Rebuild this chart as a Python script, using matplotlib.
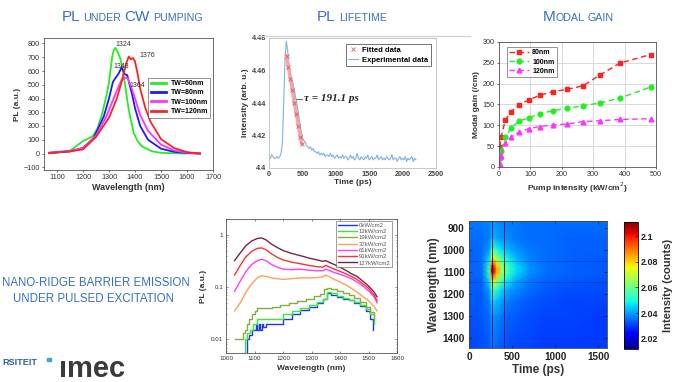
import matplotlib
matplotlib.use("Agg")
import matplotlib.pyplot as plt
import numpy as np

plt.rcParams["font.family"] = ["Liberation Sans", "DejaVu Sans"]

W, H = 677, 382
TITLE_BLUE = "#3670c6"

# ---------------- PL under CW pumping ----------------
pl_green_x = [1070, 1100, 1150, 1200, 1236, 1255, 1274, 1290, 1299, 1312, 1318, 1324, 1332, 1342, 1350, 1363, 1376, 1395, 1410, 1427, 1465, 1500, 1560, 1650]
pl_green_y = [0, 5, 20, 90, 124, 180, 292, 420, 508, 700, 750, 768, 745, 700, 640, 483, 316, 148, 90, 52, 16, 5, 1, 0]
pl_blue_x = [1070, 1150, 1200, 1240, 1280, 1300, 1315, 1325, 1335, 1342, 1348, 1355, 1362, 1370, 1378, 1390, 1400, 1420, 1450, 1500, 1550, 1600, 1650]
pl_blue_y = [5, 15, 40, 110, 270, 400, 520, 550, 575, 600, 627, 600, 575, 570, 510, 420, 330, 200, 100, 35, 12, 4, 0]
pl_mag_x = [1070, 1150, 1200, 1250, 1290, 1320, 1340, 1350, 1358, 1364, 1372, 1380, 1390, 1400, 1420, 1450, 1500, 1550, 1600, 1650]
pl_mag_y = [5, 20, 40, 130, 270, 410, 500, 540, 545, 551, 548, 510, 460, 400, 280, 165, 65, 22, 6, 0]
pl_red_x = [1070, 1150, 1200, 1250, 1300, 1330, 1350, 1365, 1376, 1384, 1392, 1400, 1410, 1420, 1440, 1460, 1500, 1550, 1600, 1650]
pl_red_y = [5, 15, 30, 120, 260, 400, 530, 650, 705, 685, 695, 670, 580, 470, 330, 230, 105, 40, 10, 0]
pl_labels = ["TW=60nm", "TW=80nm", "TW=100nm", "TW=120nm"]
pl_peaks = ["1324", "1348", "1364", "1376"]

# ---------------- PL lifetime ----------------
life_t = list(range(0, 2201, 20))
life_i = [4.405, 4.406, 4.408, 4.407, 4.406, 4.406, 4.407, 4.406, 4.407, 4.409,
          4.415, 4.440, 4.468, 4.478, 4.472, 4.463, 4.458, 4.455, 4.452, 4.448,
          4.443, 4.439, 4.434, 4.428, 4.423, 4.419, 4.417, 4.416, 4.414, 4.413,
          4.412, 4.413, 4.411, 4.412, 4.410, 4.410, 4.409, 4.410, 4.408, 4.409,
          4.408, 4.409, 4.407, 4.408, 4.408, 4.407, 4.409, 4.407, 4.408, 4.406,
          4.407, 4.408, 4.406, 4.407, 4.406, 4.408, 4.406, 4.407, 4.407, 4.405,
          4.406, 4.408, 4.406, 4.407, 4.405, 4.406, 4.409, 4.406, 4.405, 4.407,
          4.406, 4.405, 4.407, 4.406, 4.408, 4.405, 4.406, 4.407, 4.405, 4.406,
          4.406, 4.408, 4.405, 4.406, 4.407, 4.405, 4.406, 4.405, 4.407, 4.406,
          4.405, 4.406, 4.408, 4.405, 4.406, 4.406, 4.404, 4.406, 4.407, 4.405,
          4.406, 4.405, 4.407, 4.404, 4.406, 4.405, 4.406, 4.407, 4.404, 4.406,
          4.405]
fit_t = [262, 290, 320, 350, 380, 410, 440, 470, 490]
fit_i = [4.469, 4.462, 4.455, 4.448, 4.440, 4.433, 4.426, 4.419, 4.415]
tau_text = "τ = 191.1 ps"

# ---------------- Modal gain ----------------
gain_x = [2, 7, 20, 39, 63, 95, 129, 171, 215, 268, 322, 384, 483]
gain_80 = [48, 72, 113, 133, 149, 161, 172, 181, 186, 195, 221, 249, 270]
gain_100 = [21, 39, 71, 94, 110, 118, 128, 135, 141, 147, 154, 165, 192]
gain_120 = [8, 26, 58, 72, 84, 92, 97, 101, 103, 109, 111, 114, 116]
gain_labels = ["80nm", "100nm", "120nm"]

# ---------------- Nano-ridge barrier emission ----------------
nr_wl = [1030, 1050, 1070, 1090, 1110, 1125, 1140, 1160, 1180, 1200, 1230, 1260, 1290,
         1320, 1340, 1350, 1360, 1380, 1400, 1420, 1440, 1460, 1480, 1500, 1520, 1530]
nr_127 = [0.32, 0.45, 0.62, 0.76, 0.85, 0.87, 0.80, 0.66, 0.57, 0.50, 0.44, 0.40, 0.36,
          0.33, 0.31, 0.32, 0.30, 0.27, 0.24, 0.21, 0.18, 0.16, 0.13, 0.105, 0.08, 0.065]
nr_91 = [0.17, 0.26, 0.38, 0.48, 0.55, 0.56, 0.52, 0.43, 0.37, 0.33, 0.30, 0.28, 0.26,
         0.245, 0.24, 0.26, 0.245, 0.22, 0.20, 0.18, 0.16, 0.14, 0.115, 0.095, 0.07, 0.055]
nr_61 = [0.083, 0.13, 0.20, 0.27, 0.32, 0.34, 0.32, 0.27, 0.24, 0.22, 0.215, 0.22, 0.21,
         0.205, 0.205, 0.22, 0.21, 0.19, 0.175, 0.16, 0.145, 0.125, 0.105, 0.085, 0.065, 0.05]
nr_37 = [0.035, 0.05, 0.08, 0.115, 0.15, 0.165, 0.16, 0.15, 0.145, 0.14, 0.145, 0.15, 0.15,
         0.152, 0.158, 0.17, 0.16, 0.14, 0.125, 0.11, 0.095, 0.08, 0.066, 0.055, 0.042, 0.035]
nr19_x = [1030, 1055, 1060, 1065, 1075, 1080, 1090, 1100, 1110, 1130, 1160, 1190, 1220, 1250,
          1280, 1310, 1330, 1345, 1355, 1370, 1390, 1410, 1430, 1450, 1470, 1490, 1505, 1520]
nr_19 = [0.010, 0.010, 0.013, 0.015, 0.020, 0.025, 0.030, 0.035, 0.040, 0.040, 0.042, 0.045,
         0.050, 0.055, 0.060, 0.068, 0.075, 0.090, 0.095, 0.092, 0.085, 0.078, 0.070, 0.062,
         0.052, 0.042, 0.033, 0.025]
nr12_x = [1060, 1065, 1075, 1085, 1095, 1110, 1140, 1170, 1200, 1230, 1260, 1290, 1320, 1340,
          1355, 1370, 1390, 1410, 1430, 1450, 1470, 1490, 1505, 1520]
nr_12 = [0.005, 0.010, 0.013, 0.015, 0.020, 0.025, 0.025, 0.025, 0.030, 0.035, 0.040, 0.045,
         0.052, 0.060, 0.080, 0.076, 0.068, 0.062, 0.057, 0.052, 0.045, 0.038, 0.030, 0.020]
nr0_x = [1070, 1072, 1080, 1090, 1100, 1105, 1110, 1115, 1120, 1125, 1130, 1140, 1150, 1170,
         1200, 1230, 1260, 1290, 1320, 1340, 1355, 1370, 1390, 1410, 1430, 1450, 1470, 1490,
         1505, 1515]
nr_0 = [0.004, 0.010, 0.012, 0.015, 0.015, 0.020, 0.015, 0.020, 0.015, 0.020, 0.017, 0.020,
        0.020, 0.020, 0.025, 0.030, 0.036, 0.042, 0.050, 0.058, 0.078, 0.072, 0.064, 0.060,
        0.056, 0.050, 0.043, 0.035, 0.025, 0.015]
nr_labels = ["0kW/cm2", "12kW/cm2", "19kW/cm2", "37kW/cm2", "61kW/cm2", "91kW/cm2", "127kW/cm2"]

# ---------------- Streak map ----------------
hm_time = [0, 150, 240, 262, 275, 290, 320, 380, 450, 550, 700, 900, 1200, 1600]
hm_wl = [870, 950, 1000, 1040, 1070, 1090, 1110, 1140, 1180, 1230, 1300, 1445]
hm_counts = [
    [2.036, 2.036, 2.037, 2.038, 2.038, 2.038, 2.038, 2.037, 2.036, 2.036, 2.035, 2.035, 2.035, 2.035],
    [2.035, 2.035, 2.037, 2.042, 2.043, 2.042, 2.041, 2.039, 2.038, 2.036, 2.035, 2.035, 2.034, 2.034],
    [2.034, 2.035, 2.040, 2.054, 2.056, 2.054, 2.050, 2.046, 2.042, 2.039, 2.036, 2.035, 2.034, 2.034],
    [2.034, 2.035, 2.046, 2.074, 2.078, 2.074, 2.066, 2.056, 2.048, 2.042, 2.037, 2.035, 2.034, 2.033],
    [2.034, 2.035, 2.052, 2.094, 2.100, 2.094, 2.080, 2.064, 2.053, 2.045, 2.038, 2.035, 2.034, 2.033],
    [2.034, 2.035, 2.055, 2.104, 2.110, 2.104, 2.086, 2.068, 2.055, 2.046, 2.039, 2.035, 2.034, 2.033],
    [2.034, 2.035, 2.053, 2.096, 2.102, 2.096, 2.082, 2.065, 2.053, 2.045, 2.038, 2.035, 2.034, 2.033],
    [2.033, 2.034, 2.047, 2.076, 2.080, 2.076, 2.067, 2.056, 2.047, 2.041, 2.036, 2.034, 2.033, 2.032],
    [2.033, 2.034, 2.041, 2.056, 2.058, 2.056, 2.052, 2.046, 2.041, 2.038, 2.035, 2.033, 2.032, 2.032],
    [2.033, 2.033, 2.037, 2.045, 2.046, 2.045, 2.043, 2.040, 2.037, 2.035, 2.033, 2.032, 2.031, 2.031],
    [2.032, 2.033, 2.035, 2.039, 2.040, 2.039, 2.038, 2.036, 2.034, 2.033, 2.032, 2.031, 2.031, 2.030],
    [2.031, 2.032, 2.033, 2.035, 2.035, 2.035, 2.034, 2.033, 2.032, 2.031, 2.031, 2.030, 2.030, 2.030],
]
hm_vlines = [269, 404]
hm_hlines = [1050, 1145]
cbar_ticks = [2.02, 2.04, 2.06, 2.08, 2.1]

fig = plt.figure(figsize=(W / 100, H / 100), dpi=100)
fig.patch.set_facecolor("white")


def ax_px(l, t, r, b):
    return fig.add_axes([l / W, 1 - b / H, (r - l) / W, (b - t) / H])


def smallcaps(cx, base_y, pieces):
    """Draw pieces (text, size, gap_px) side by side, centred on cx."""
    arts = [fig.text(0, 1 - base_y / H, s, fontsize=sz, color=TITLE_BLUE,
                     ha="left", va="baseline") for s, sz, _ in pieces]
    r = fig.canvas.get_renderer()
    widths = [a.get_window_extent(r).width for a in arts]
    gaps = [g for _, _, g in pieces]
    total = sum(widths) + sum(gaps)
    x = cx - total / 2
    for a, w, g in zip(arts, widths, gaps):
        x += g
        a.set_x(x / W)
        x += w


# ---- titles ----
smallcaps(132, 21, [("PL", 11, 0), ("UNDER", 7.7, 3), ("CW", 11, 3), ("PUMPING", 7.7, 3)])
smallcaps(352, 21, [("PL", 11, 0), ("LIFETIME", 7.7, 3)])
smallcaps(578, 21, [("M", 11, 0), ("ODAL", 7.7, 0.5), ("GAIN", 7.7, 3)])

# ---- panel 1 ----
ax1 = ax_px(44, 38, 213, 170)
pl_cols = ["#22ee22", "#1a1aff", "#ff33ff", "#ff2222"]
for xs, ys, c, lab in zip([pl_green_x, pl_blue_x, pl_mag_x, pl_red_x],
                          [pl_green_y, pl_blue_y, pl_mag_y, pl_red_y], pl_cols, pl_labels):
    ax1.plot(xs, ys, color=c, lw=1.3, label=lab)
ax1.set_xlim(1050, 1700)
ax1.set_ylim(-120, 840)
ax1.set_xticks(range(1100, 1701, 100))
ax1.set_yticks(range(-100, 801, 100))
ax1.tick_params(labelsize=5.2, length=1.5, width=0.5, colors="#333333", pad=1.5)
for s in ax1.spines.values():
    s.set_color("#555555"); s.set_linewidth(0.6)
ax1.set_xlabel("Wavelength (nm)", fontsize=6.5, fontweight="bold", color="#333333", labelpad=1)
ax1.set_ylabel("PL (a.u.)", fontsize=6, fontweight="bold", color="#333333", labelpad=2)
peak_pos = [(1323, 790), (1319, 632), (1380, 496), (1418, 712)]
for txt, (px, py) in zip(pl_peaks, peak_pos):
    ax1.text(px, py, txt, fontsize=5, color="#333333", va="center", ha="left")
leg1 = ax1.legend(loc="upper right", bbox_to_anchor=(0.985, 0.70),
                  prop={"weight": "bold", "size": 5}, frameon=True, fancybox=False,
                  handlelength=2.3, handletextpad=0.6, borderpad=0.35, labelspacing=0.35,
                  borderaxespad=0)
leg1.get_frame().set_edgecolor("#444444"); leg1.get_frame().set_linewidth(0.5)
for lh in leg1.get_lines():
    lh.set_linewidth(2)

# ---- panel 2 ----
ax2 = ax_px(269, 38, 436, 168)
ax2.plot(life_t, life_i, color="#7fb2e5", lw=0.8, label="Experimental data", zorder=2)
ax2.plot(fit_t, fit_i, color="#f6a4a4", lw=2.4, zorder=3)
ax2.plot(fit_t, fit_i, color="#e8585a", lw=0, marker="x", ms=2.2, mew=0.6,
         label="Fitted data", zorder=4)
ax2.set_xlim(0, 2500)
ax2.set_ylim(4.4, 4.48)
ax2.set_xticks(range(0, 2501, 500))
ax2.set_yticks([4.4, 4.42, 4.44, 4.46, 4.48])
ax2.set_yticklabels(["4.4", "4.42", "4.44", "4.46", "4.48"])
ax2.tick_params(labelsize=5.2, length=0, colors="#444444", pad=2)
for lbl in ax2.get_xticklabels() + ax2.get_yticklabels():
    lbl.set_fontweight("bold")
for s in ax2.spines.values():
    s.set_color("#bfbfbf"); s.set_linewidth(0.6)
ax2.set_xlabel("Time (ps)", fontsize=6, fontweight="bold", color="#333333", labelpad=1)
ax2.set_ylabel("Intensity (arb. u.)", fontsize=6, fontweight="bold", color="#333333", labelpad=2)
ax2.plot([411, 494], [4.4425, 4.4425], color="#555555", lw=0.6)
ax2.text(524, 4.4425, tau_text, fontsize=8, fontweight="bold", fontstyle="italic",
         family=["Liberation Serif", "DejaVu Serif"], color="#222222", va="center", ha="left")
h2, l2 = ax2.get_legend_handles_labels()
leg2 = ax2.legend([h2[1], h2[0]], [l2[1], l2[0]], loc="upper right", bbox_to_anchor=(0.97, 0.955),
                  prop={"weight": "bold", "size": 5.5}, frameon=True, fancybox=False,
                  handlelength=1.3, handletextpad=0.5, borderpad=0.35, labelspacing=0.3,
                  borderaxespad=0)
leg2.get_frame().set_edgecolor("#333333"); leg2.get_frame().set_linewidth(0.6)
fig.add_artist(plt.Line2D([258 / W, 470 / W], [1 - 35.5 / H, 1 - 35.5 / H],
                          color="#d4d4d4", lw=1))

# ---- panel 3 ----
ax3 = ax_px(499, 42, 656, 167)
for ys, c, m, lab in zip([gain_80, gain_100, gain_120], ["#ff2020", "#22ee22", "#ff33ff"],
                         ["s", "o", "^"], gain_labels):
    ax3.plot(gain_x, ys, color=c, lw=1, ls=(0, (4, 2.5)), marker=m, ms=3.4, label=lab)
ax3.set_xlim(0, 500)
ax3.set_ylim(0, 300)
ax3.set_xticks(range(0, 501, 100))
ax3.set_yticks(range(0, 301, 50))
ax3.grid(True, color="#d9d9d9", lw=0.7)
ax3.set_axisbelow(True)
ax3.tick_params(labelsize=5.2, length=1.5, width=0.5, colors="#333333", pad=1.5)
for s in ax3.spines.values():
    s.set_color("#555555"); s.set_linewidth(0.6)
ax3.set_xlabel("Pump intensity (kW/cm$^2$)", fontsize=6, fontweight="bold", color="#333333", labelpad=2)
ax3.set_ylabel("Modal gain (/cm)", fontsize=6, fontweight="bold", color="#333333", labelpad=2)
leg3 = ax3.legend(loc="upper left", bbox_to_anchor=(0.05, 0.96),
                  prop={"weight": "bold", "size": 5}, frameon=True, fancybox=False,
                  handlelength=2.8, handletextpad=0.5, borderpad=0.35, labelspacing=0.3,
                  borderaxespad=0)
leg3.get_frame().set_edgecolor("#444444"); leg3.get_frame().set_linewidth(0.5)

# ---- panel 4 ----
ax4 = ax_px(226, 219, 397, 353)
nr_cols = ["#1f35ff", "#33ee33", "#82b03c", "#ffa05a", "#ff3cff", "#ff3030", "#7a2448"]
ax4.plot(nr0_x, nr_0, color=nr_cols[0], lw=1, drawstyle="steps-post", label=nr_labels[0])
ax4.plot(nr12_x, nr_12, color=nr_cols[1], lw=1, drawstyle="steps-post", label=nr_labels[1])
ax4.plot(nr19_x, nr_19, color=nr_cols[2], lw=1, drawstyle="steps-post", label=nr_labels[2])
for ys, c, lab in zip([nr_37, nr_61, nr_91, nr_127], nr_cols[3:], nr_labels[3:]):
    ax4.plot(nr_wl, ys, color=c, lw=1, label=lab)
ax4.set_yscale("log")
ax4.set_xlim(1000, 1600)
ax4.set_ylim(0.0055, 2)
ax4.set_xticks(range(1000, 1601, 100))
ax4.set_yticks([0.01, 0.1, 1])
ax4.set_yticklabels(["0.01", "0.1", "1"])
ax4.tick_params(which="both", labelsize=4.5, direction="in", length=1.5, width=0.4,
                colors="#333333", pad=2, top=True, right=True)
ax4.tick_params(which="minor", length=1)
for s in ax4.spines.values():
    s.set_color("#555555"); s.set_linewidth(0.6)
ax4.set_xlabel("Wavelength (nm)", fontsize=6, fontweight="bold", color="#333333", labelpad=3)
ax4.set_ylabel("PL (a.u.)", fontsize=6, fontweight="bold", color="#333333", labelpad=3)
leg4 = ax4.legend(loc="upper right", bbox_to_anchor=(0.972, 0.985),
                  prop={"size": 4.3}, frameon=True, fancybox=False,
                  handlelength=3.2, handletextpad=0.3, borderpad=0.3, labelspacing=0.18,
                  borderaxespad=0)
leg4.get_frame().set_edgecolor("#555555"); leg4.get_frame().set_linewidth(0.5)
for t in leg4.get_texts():
    t.set_color("#555555")

# ---- panel 5 ----
ax5 = ax_px(469, 221, 607, 348)
cax = ax_px(624, 222, 638, 349)
T, L = np.meshgrid(hm_time, hm_wl)
mesh = ax5.pcolormesh(T, L, np.array(hm_counts), cmap="jet", shading="gouraud",
                      vmin=2.012, vmax=2.111)
for t in hm_vlines:
    ax5.axvline(t, color="#0a0a50", lw=0.7, alpha=0.8)
for w in hm_hlines:
    ax5.axhline(w, color="#102080", lw=0.7, alpha=0.35)
ax5.set_xlim(0, 1600)
ax5.set_ylim(1445, 870)
ax5.set_xticks([0, 500, 1000, 1500])
ax5.set_yticks([900, 1000, 1100, 1200, 1300, 1400])
ax5.tick_params(labelsize=7.2, direction="in", length=2, width=0.5, colors="#222222", pad=3,
                top=True, right=True)
for lbl in ax5.get_xticklabels() + ax5.get_yticklabels():
    lbl.set_fontweight("bold")
for s in ax5.spines.values():
    s.set_color("#444444"); s.set_linewidth(0.6)
ax5.set_xlabel("Time (ps)", fontsize=8.5, fontweight="bold", color="#333333", labelpad=1)
ax5.set_ylabel("Wavelength (nm)", fontsize=8.5, fontweight="bold", color="#333333", labelpad=2)
cb = fig.colorbar(mesh, cax=cax, ticks=cbar_ticks)
cb.ax.set_yticklabels(["2.02", "2.04", "2.06", "2.08", "2.1"])
cb.ax.tick_params(labelsize=6.5, direction="in", length=2, width=0.5, colors="#222222", pad=2)
for lbl in cb.ax.get_yticklabels():
    lbl.set_fontweight("bold")
cb.outline.set_linewidth(0.6)
cb.set_label("Intensity (counts)", fontsize=8, fontweight="bold", color="#333333", labelpad=3)

# ---- left-hand captions and logos ----
fig.text(190 / W, 1 - 286.5 / H, "NANO-RIDGE BARRIER EMISSION", fontsize=8.3, color=TITLE_BLUE,
         ha="right", va="baseline")
fig.text(174 / W, 1 - 301.5 / H, "UNDER PULSED EXCITATION", fontsize=8.3, color=TITLE_BLUE,
         ha="right", va="baseline")
fig.text(2 / W, 1 - 365 / H, "RSITEIT", fontsize=6.6, fontweight="bold", color="#2f5fb0",
         ha="left", va="baseline", family=["Liberation Sans Narrow", "Liberation Sans"])
fig.add_artist(plt.Rectangle((47.5 / W, 1 - 361 / H), 3.5 / W, 3.5 / H, color="#3aa6d0",
                             transform=fig.transFigure))
fig.text(59 / W, 1 - 377 / H, "\u0131mec", fontsize=21, fontweight="bold", color="#3a3a3a",
         ha="left", va="baseline")

fig.savefig("out.png", dpi=100, facecolor="white")
